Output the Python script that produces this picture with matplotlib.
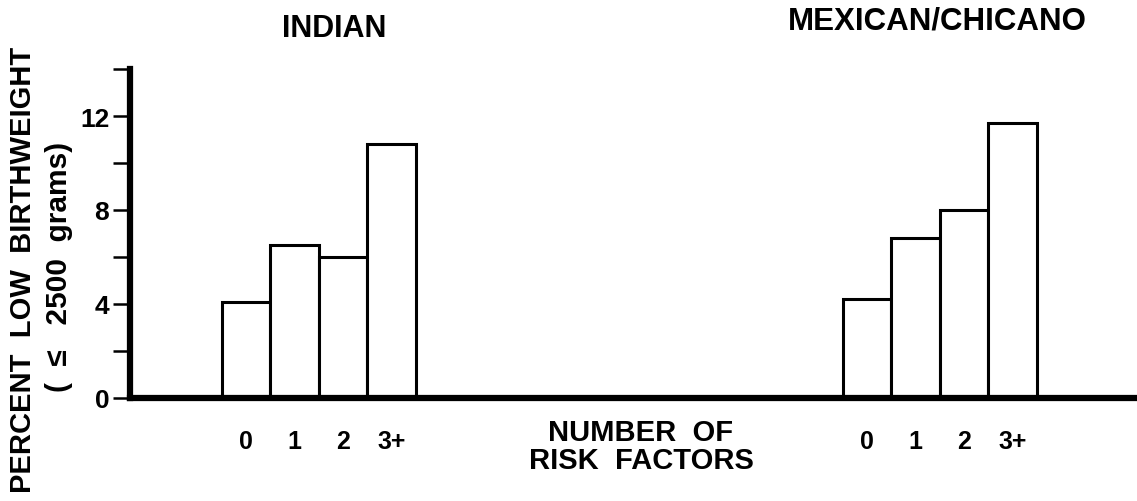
import matplotlib.pyplot as plt
import numpy as np

plt.rcParams['font.family'] = ['Liberation Sans', 'DejaVu Sans']
plt.rcParams['font.weight'] = 'bold'

# datos
risk_labels = ['0', '1', '2', '3+']
indian_pct = [4.1, 6.5, 6.0, 10.8]
mexican_pct = [4.2, 6.8, 8.0, 11.7]
groups = ['INDIAN', 'MEXICAN/CHICANO']

fig = plt.figure(figsize=(11.37, 5.02), dpi=100)
ax = fig.add_axes([130/1137, 103/502, 1007/1137, 329/502])

ind = np.arange(4)           # posiciones grupo 1
mex = ind + 12.8             # posiciones grupo 2
width = 1.0

ax.bar(ind, indian_pct, width, color='white', edgecolor='black', linewidth=2.2)
ax.bar(mex, mexican_pct, width, color='white', edgecolor='black', linewidth=2.2)

ax.set_xlim(-2.39, 18.37)
ax.set_ylim(0, 14)

for s in ['top', 'right']:
	ax.spines[s].set_visible(False)
ax.spines['left'].set_linewidth(4.5)
ax.spines['bottom'].set_linewidth(4.5)
ax.spines['left'].set_capstyle('projecting')

ax.set_yticks([0, 4, 8, 12])
ax.set_yticks([2, 6, 10, 14], minor=True)
ax.tick_params(axis='y', which='both', direction='out', length=12, width=1.8,
	labelsize=19, pad=3)
ax.set_xticks(list(ind) + list(mex), risk_labels + risk_labels)
ax.tick_params(axis='x', length=0, labelsize=18, pad=22)

# titulos de grupo
fig.text(334/1137, 1 - 29/502, groups[0], ha='center', va='center', fontsize=22)
fig.text(937/1137, 1 - 21/502, groups[1], ha='center', va='center', fontsize=22.5)

fig.text(641/1137, 1 - 447/502, 'NUMBER  OF\nRISK  FACTORS', ha='center',
	va='center', fontsize=21, linespacing=1.0)

fig.text(23/1137, 1 - 270/502, 'PERCENT  LOW  BIRTHWEIGHT', rotation=90,
	ha='center', va='center', fontsize=21)
fig.text(59/1137, 1 - 267/502, '(  \u2264   2500  grams)', rotation=90,
	ha='center', va='center', fontsize=21.5)

fig.savefig('out.png', dpi=100)
